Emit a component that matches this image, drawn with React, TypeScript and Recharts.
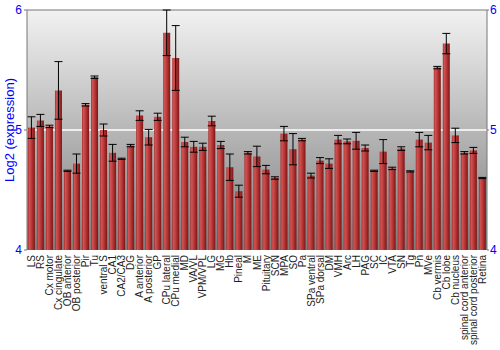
import {
  Bar,
  BarChart,
  CartesianGrid,
  ErrorBar,
  ReferenceLine,
  XAxis,
  YAxis,
} from "recharts";

const regions = [
  "LS", "RS", "Cx motor", "Cx cingulate", "OB anterior", "OB posterior", "Pir", "Tu",
  "ventral S", "CA1", "CA2/CA3", "DG", "A anterior", "A posterior", "GP", "CPu lateral",
  "CPu medial", "MD", "VA/VL", "VPM/VPL", "LG", "MG", "Hb", "Pineal", "M", "ME",
  "Pituitary", "SCN", "MPA", "SO", "Pa", "SPa ventral", "SPa dorsal", "DM", "VMH", "Arc",
  "LH", "PAG", "SC", "IC", "VTA", "SN", "Tg", "Pn", "MVe", "Cb vermis", "Cb lobe",
  "Cb nucleus", "spinal cord anterior", "spinal cord posterior", "Retina",
];

const expression = [
  5.02, 5.08, 5.03, 5.33, 4.66, 4.72, 5.21, 5.44,
  5.0, 4.81, 4.76, 4.87, 5.12, 4.94, 5.11, 5.81,
  5.6, 4.9, 4.86, 4.86, 5.075, 4.875, 4.69, 4.49, 4.81, 4.78,
  4.67, 4.6, 4.97, 4.84, 4.92, 4.62, 4.745, 4.72, 4.92, 4.905,
  4.91, 4.85, 4.66, 4.82, 4.68, 4.845, 4.655, 4.92, 4.895, 5.52, 5.72,
  4.955, 4.81, 4.83, 4.6,
];

const spread = [
  0.09, 0.05, 0.01, 0.24, 0.005, 0.08, 0.01, 0.01,
  0.05, 0.07, 0.005, 0.01, 0.04, 0.065, 0.03, 0.19,
  0.27, 0.04, 0.045, 0.03, 0.04, 0.03, 0.11, 0.05, 0.01, 0.085,
  0.035, 0.01, 0.06, 0.13, 0.01, 0.02, 0.025, 0.04, 0.035, 0.02,
  0.07, 0.025, 0.005, 0.1, 0.01, 0.015, 0.005, 0.06, 0.06, 0.01, 0.085,
  0.06, 0.01, 0.025, 0.005,
];

const yTicks = [4, 5, 6];

const data = regions.map((name, i) => ({ name, value: expression[i], err: spread[i] }));

const blue = "#0000ff";
const font = "'Liberation Sans', Arial, sans-serif";

function RegionTick({ x, y, payload }: any) {
  return (
    <text
      x={x}
      y={y}
      transform={`rotate(-90 ${x} ${y})`}
      textAnchor="end"
      dominantBaseline="central"
      fontSize={10}
      fontFamily={font}
      fill="#222"
    >
      {payload.value}
    </text>
  );
}

export default function App() {
  return (
    <div style={{ width: 500, height: 350 }}>
      <style>{`body { margin: 0; }`}</style>
      <BarChart
        width={500}
        height={350}
        data={data}
        margin={{ top: 10, right: 0, bottom: 0, left: 0 }}
        barCategoryGap="10%"
      >
        <defs>
          <linearGradient id="panelFill" x1="0" y1="0" x2="0" y2="1">
            <stop offset="0%" stopColor="#f2f2f2" />
            <stop offset="100%" stopColor="#7c7c7c" />
          </linearGradient>
          <linearGradient id="barFill" x1="0" y1="0" x2="1" y2="0">
            <stop offset="0%" stopColor="#a82c2c" />
            <stop offset="20%" stopColor="#d05454" />
            <stop offset="55%" stopColor="#b83636" />
            <stop offset="100%" stopColor="#7a1616" />
          </linearGradient>
        </defs>
        <CartesianGrid
          yAxisId="left"
          vertical={false}
          horizontalValues={[5]}
          stroke="#ffffff"
          strokeWidth={1.5}
          fill="url(#panelFill)"
          fillOpacity={1}
        />
        <XAxis
          dataKey="name"
          interval={0}
          axisLine={false}
          tickLine={false}
          tickSize={3}
          height={100}
          tick={<RegionTick />}
        />
        <YAxis
          yAxisId="left"
          domain={[4, 6]}
          ticks={yTicks}
          width={27}
          allowDataOverflow
          axisLine={{ stroke: "#777" }}
          tickLine={{ stroke: "#777" }}
          tickSize={3}
          tickMargin={2}
          tick={{ fill: blue, fontSize: 12, fontFamily: font }}
          label={{
            value: "Log2 (expression)",
            angle: -90,
            position: "center",
            dx: -4,
            fill: blue,
            fontSize: 13,
            fontFamily: font,
          }}
        />
        <YAxis
          yAxisId="right"
          orientation="right"
          domain={[4, 6]}
          ticks={yTicks}
          width={13}
          allowDataOverflow
          axisLine={{ stroke: "#777" }}
          tickLine={{ stroke: "#777" }}
          tickSize={2}
          tickMargin={1}
          tick={{ fill: blue, fontSize: 12, fontFamily: font }}
        />
        <ReferenceLine yAxisId="left" y={6} stroke="#777" />
        <Bar yAxisId="left" dataKey="value" fill="url(#barFill)" isAnimationActive={false}>
          <ErrorBar dataKey="err" width={4} stroke="#000" strokeWidth={1} direction="y" />
        </Bar>
      </BarChart>
    </div>
  );
}
